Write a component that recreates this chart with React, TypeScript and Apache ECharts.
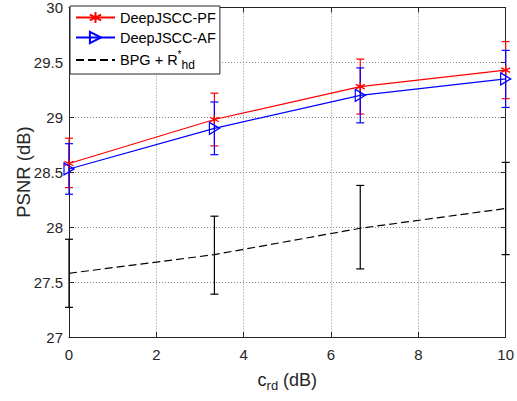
import React, { useEffect, useRef } from "react";
import * as echarts from "echarts";

const xValues = [0, 3.33, 6.67, 10];
const pfValues = [28.58, 28.98, 29.28, 29.43];
const pfLower = [28.36, 28.74, 29.03, 29.17];
const pfUpper = [28.81, 29.22, 29.53, 29.69];
const afValues = [28.53, 28.9, 29.2, 29.35];
const afLower = [28.3, 28.66, 28.95, 29.09];
const afUpper = [28.76, 29.14, 29.45, 29.61];
const bpgValues = [27.58, 27.75, 27.99, 28.17];
const bpgLower = [27.27, 27.39, 27.62, 27.75];
const bpgUpper = [27.89, 28.1, 28.38, 28.59];

const FONT = "'Liberation Sans', Arial, Helvetica, sans-serif";
const AXIS_COLOR = "#262626";

const asterisk =
  "path://M5,0 L5,10 M0.7,2.5 L9.3,7.5 M0.7,7.5 L9.3,2.5 M5,0 L5,10";
const triRight = "path://M0,0 L10,5 L0,10 Z";

function errorSeries(name: string, lo: number[], hi: number[], color: string) {
  return {
    type: "custom",
    name,
    silent: true,
    clip: false,
    data: xValues.map((x, i) => [x, lo[i], hi[i]]),
    renderItem: (params: any, api: any) => {
      const x = api.value(0);
      const pLo = api.coord([x, api.value(1)]);
      const pHi = api.coord([x, api.value(2)]);
      const cap = 4;
      const style = { stroke: color, lineWidth: 1.2 };
      return {
        type: "group",
        children: [
          { type: "line", shape: { x1: pLo[0], y1: pLo[1], x2: pHi[0], y2: pHi[1] }, style },
          { type: "line", shape: { x1: pLo[0] - cap, y1: pLo[1], x2: pLo[0] + cap, y2: pLo[1] }, style },
          { type: "line", shape: { x1: pHi[0] - cap, y1: pHi[1], x2: pHi[0] + cap, y2: pHi[1] }, style },
        ],
      };
    },
    z: 2,
  };
}

export default function App() {
  const ref = useRef<HTMLDivElement>(null);
  useEffect(() => {
    if (!ref.current) return;
    const chart = echarts.init(ref.current, undefined, { renderer: "svg" });
    const gridLine = { show: true, lineStyle: { color: "#8a8a8a", type: [1, 2], width: 1 } };
    const tick = { show: true, inside: true, length: 5, lineStyle: { color: AXIS_COLOR, width: 1 } };
    const axisLine = { show: true, onZero: false, lineStyle: { color: AXIS_COLOR, width: 1 } };
    chart.setOption({
      animation: false,
      backgroundColor: "#fff",
      textStyle: { fontFamily: FONT },
      grid: { left: 69, right: 9, top: 7, bottom: 64, containLabel: false },
      graphic: [
        {
          type: "text",
          x: 23,
          y: 172,
          rotation: Math.PI / 2,
          style: {
            text: "PSNR (dB)",
            fontSize: 18.5,
            fontFamily: FONT,
            fill: AXIS_COLOR,
            align: "center",
            verticalAlign: "middle",
          },
        },
      ],
      legend: {
        data: [
          { name: "DeepJSCC-PF" },
          { name: "DeepJSCC-AF" },
          { name: "BPG + R*hd", itemStyle: { opacity: 0 } },
        ],
        orient: "vertical",
        left: 70,
        top: 6,
        padding: [3, 4, 3, 5],
        itemWidth: 39,
        itemHeight: 14,
        itemGap: 3,
        borderColor: AXIS_COLOR,
        borderWidth: 1,
        backgroundColor: "#fff",
        selectedMode: false,
        textStyle: {
          fontSize: 14.5,
          lineHeight: 17,
          color: "#000",
          fontFamily: FONT,
          rich: {
            t: { fontSize: 14.5, color: "#000", fontFamily: FONT, lineHeight: 22, verticalAlign: "middle" },
            sup: { fontSize: 10, color: "#000", fontFamily: FONT, verticalAlign: "top", lineHeight: 20 },
            sub: { fontSize: 12, color: "#000", fontFamily: FONT, verticalAlign: "bottom", lineHeight: 22 },
          },
        },
        formatter: (name: string) =>
          name === "BPG + R*hd" ? "{t|BPG + R}{sup|*}{sub|hd}" : name,
      },
      xAxis: [
        {
          type: "value",
          min: 0,
          max: 10,
          interval: 2,
          axisLine,
          axisTick: tick,
          splitLine: gridLine,
          axisLabel: { color: AXIS_COLOR, fontSize: 15, margin: 10, fontFamily: FONT },
          name: "{c|c}{s|rd}{c| (dB)}",
          nameLocation: "middle",
          nameGap: 31,
          nameTextStyle: {
            rich: {
              c: { fontSize: 18, color: AXIS_COLOR, fontFamily: FONT, verticalAlign: "middle", lineHeight: 24 },
              s: { fontSize: 13, color: AXIS_COLOR, fontFamily: FONT, verticalAlign: "bottom", lineHeight: 24 },
            },
          },
        },
        {
          type: "value",
          position: "top",
          min: 0,
          max: 10,
          interval: 2,
          axisLine,
          axisTick: tick,
          axisLabel: { show: false },
          splitLine: { show: false },
        },
      ],
      yAxis: [
        {
          type: "value",
          min: 27,
          max: 30,
          interval: 0.5,
          axisLine,
          axisTick: tick,
          splitLine: gridLine,
          axisLabel: { color: AXIS_COLOR, fontSize: 15, margin: 6, fontFamily: FONT },
        },
        {
          type: "value",
          position: "right",
          min: 27,
          max: 30,
          interval: 0.5,
          axisLine,
          axisTick: tick,
          axisLabel: { show: false },
          splitLine: { show: false },
        },
      ],
      series: [
        errorSeries("PF error", pfLower, pfUpper, "#ff0000"),
        {
          type: "line",
          name: "DeepJSCC-PF",
          data: xValues.map((x, i) => [x, pfValues[i]]),
          symbol: asterisk,
          symbolSize: 9,
          showAllSymbol: true,
          lineStyle: { color: "#ff0000", width: 1.2 },
          itemStyle: { color: "rgba(0,0,0,0)", borderColor: "#ff0000", borderWidth: 1.3 },
          z: 3,
        },
        errorSeries("AF error", afLower, afUpper, "#0000ff"),
        {
          type: "line",
          name: "DeepJSCC-AF",
          data: xValues.map((x, i) => [x, afValues[i]]),
          symbol: triRight,
          symbolSize: [10, 12],
          showAllSymbol: true,
          lineStyle: { color: "#0000ff", width: 1.2 },
          itemStyle: { color: "rgba(0,0,0,0)", borderColor: "#0000ff", borderWidth: 1.3 },
          z: 4,
        },
        errorSeries("BPG error", bpgLower, bpgUpper, "#000000"),
        {
          type: "line",
          name: "BPG + R*hd",
          data: xValues.map((x, i) => [x, bpgValues[i]]),
          symbol: "none",
          lineStyle: { color: "#000000", width: 1.2, type: [8, 4] },
          itemStyle: { color: "#000000" },
          z: 5,
        },
      ],
    });
    return () => chart.dispose();
  }, []);
  return (
    <div
      ref={ref}
      style={{ position: "fixed", left: 0, top: 0, width: 517, height: 401, background: "#fff" }}
    />
  );
}
